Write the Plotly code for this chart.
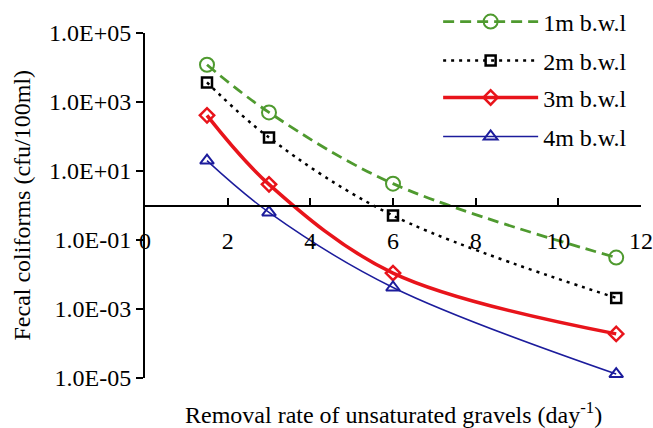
import plotly.graph_objects as go

x_vals = [1.5, 3, 6, 11.4]
y_1m = [1.2e4, 500, 4.3, 0.031]
y_2m = [3.7e3, 93, 0.51, 2.1e-3]
y_3m = [410, 4.1, 0.011, 1.9e-4]
y_4m = [20, 0.63, 4.2e-3, 1.3e-5]

names = ["1m b.w.l", "2m b.w.l", "3m b.w.l", "4m b.w.l"]
y_tickvals = [1e5, 1e3, 1e1, 1e-1, 1e-3, 1e-5]
y_ticktext = ["1.0E+05", "1.0E+03", "1.0E+01", "1.0E-01", "1.0E-03", "1.0E-05"]
x_tickvals = [0, 2, 4, 6, 8, 10, 12]

FONT = "Liberation Serif, Times New Roman, serif"
FS = 24
green = "#4f9a2f"
red = "#e8141b"
blue = "#1c1c9c"
black = "#000000"

styles = [
    dict(color=green, dash="11px,6px", width=2.8, symbol="circle-open", msize=14, mline=2),
    dict(color=black, dash="3px,5px", width=2.5, symbol="square-open", msize=10, mline=2.5),
    dict(color=red, dash="solid", width=3.5, symbol="diamond-open", msize=11, mline=2.5),
    dict(color=blue, dash="solid", width=1.5, symbol="triangle-up-open", msize=12, mline=2),
]
series = [y_1m, y_2m, y_3m, y_4m]
legend_ids = ["legend", "legend2", "legend3", "legend4"]

fig = go.Figure()
for nm, ys, st, lg in zip(names, series, styles, legend_ids):
    fig.add_trace(go.Scatter(
        x=x_vals, y=ys, name=nm, mode="lines+markers", legend=lg,
        line=dict(color=st["color"], dash=st["dash"], width=st["width"], shape="spline", smoothing=1),
        marker=dict(symbol=st["symbol"], size=st["msize"], color=st["color"],
                    line=dict(color=st["color"], width=st["mline"])),
    ))

legend_y = [1.032, 0.919, 0.812, 0.699]
legend_common = dict(x=0.591, xanchor="left", yanchor="middle", bgcolor="rgba(0,0,0,0)",
                     font=dict(family=FONT, size=FS, color="black"), itemwidth=95)
layout_legends = {}
for lg, yy in zip(legend_ids, legend_y):
    layout_legends[lg] = dict(legend_common, y=yy)

fig.update_layout(
    width=653, height=428,
    margin=dict(l=145, r=12, t=33, b=50, autoexpand=False),
    paper_bgcolor="white", plot_bgcolor="white",
    showlegend=True,
    font=dict(family=FONT, size=FS, color="black"),
    xaxis=dict(
        range=[0, 12], tickvals=x_tickvals, ticktext=[str(v) for v in x_tickvals],
        anchor="free", position=0.5, showline=True, linecolor="black", linewidth=2,
        ticks="inside", ticklen=7, tickwidth=1.5, tickcolor="black",
        showgrid=False, zeroline=False, ticklabelstandoff=14,
        tickfont=dict(family=FONT, size=FS, color="black"),
    ),
    yaxis=dict(
        type="log", range=[-5, 5], tickvals=y_tickvals, ticktext=y_ticktext,
        showline=True, linecolor="black", linewidth=2,
        ticks="outside", ticklen=7, tickwidth=1.5, tickcolor="black",
        showgrid=False, zeroline=False,
        tickfont=dict(family=FONT, size=FS, color="black"),
    ),
    annotations=[
        dict(text="Removal rate of unsaturated gravels (day<sup>-1</sup>)", x=0.5, y=-0.1,
             xref="paper", yref="paper", xanchor="center", yanchor="middle", showarrow=False,
             font=dict(family=FONT, size=FS, color="black")),
        dict(text="Fecal coliforms (cfu/100ml)", x=-0.25, y=0.5, textangle=-90,
             xref="paper", yref="paper", xanchor="center", yanchor="middle", showarrow=False,
             font=dict(family=FONT, size=FS, color="black")),
    ],
    **layout_legends,
)

fig.write_html("out.html")
